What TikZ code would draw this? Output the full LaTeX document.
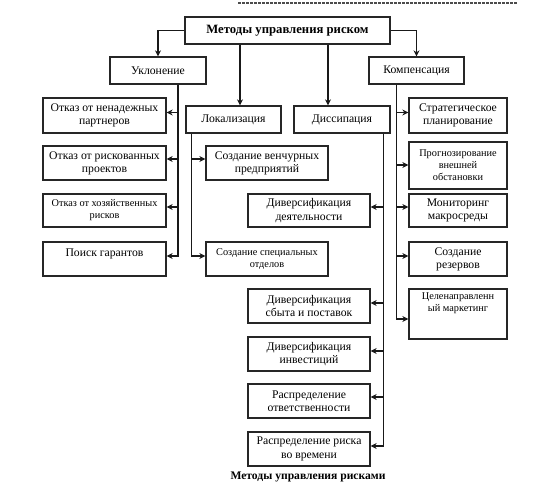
\documentclass[tikz,border=0pt]{standalone}
\usepackage{fontspec}
\setmainfont{Liberation Serif}
\usetikzlibrary{arrows.meta,calc}
\begin{document}
\begin{tikzpicture}[x=1pt,y=-1pt,
  box/.style={draw=black!85,line width=1.3pt,inner sep=0pt,align=center,font=\fontsize{11.7}{13.2}\selectfont},
  small/.style={font=\fontsize{10.3}{12}\selectfont},
  conn/.style={draw=black!90,line width=1.5pt},
  arr/.style={conn,-{Stealth[length=6pt,width=6pt]}}]
\useasboundingbox (0,0) rectangle (549,492);
% top dashed artifact
\draw[black!70,line width=1.2pt,dash pattern=on 3pt off 1pt] (238,3) coordinate (da) -- (518,3) coordinate (db);
% boxes
\node[box,minimum width=205,minimum height=27,font=\bfseries\fontsize{12.7}{14}\selectfont] (top) at (287.5,30.5) {Методы управления риском};
\node[box,minimum width=96,minimum height=27] (ukl) at (158,70.5) {Уклонение};
\node[box,minimum width=95,minimum height=27] (komp) at (416.5,70.5) {Компенсация};
\node[box,minimum width=95,minimum height=27] (lok) at (233.5,119.5) {Локализация};
\node[box,minimum width=96,minimum height=27] (dis) at (342,119.5) {Диссипация};
% left column
\node[box,minimum width=123,minimum height=35] (o1) at (104.5,115.5) {Отказ от ненадежных\\партнеров};
\node[box,minimum width=123,minimum height=34] (o2) at (104.5,163) {Отказ от рискованных\\проектов};
\node[box,small,minimum width=123,minimum height=33] (o3) at (104.5,210.5) {Отказ от хозяйственных\\рисков};
\node[box,minimum width=123,minimum height=34] (o4) at (104.5,259) {Поиск гарантов\\\mbox{}};
% localization column
\node[box,minimum width=122,minimum height=34] (l1) at (267,163) {Создание венчурных\\предприятий};
\node[box,small,minimum width=122,minimum height=34] (l2) at (267,259) {Создание специальных\\отделов};
% dissipation column
\node[box,minimum width=122,minimum height=33] (d1b) at (309,210.5) {Диверсификация\\деятельности};
\node[box,minimum width=122,minimum height=34] (d2b) at (309,306) {Диверсификация\\сбыта и поставок};
\node[box,minimum width=122,minimum height=34] (d3b) at (309,354) {Диверсификация\\инвестиций};
\node[box,minimum width=122,minimum height=34] (d4b) at (309,401) {Распределение\\ответственности};
\node[box,minimum width=122,minimum height=34] (d5b) at (309,449) {Распределение риска\\во времени};
% compensation column
\node[box,minimum width=98,minimum height=35] (k1) at (458,115.5) {Стратегическое\\планирование};
\node[box,small,minimum width=98,minimum height=47] (k2) at (458,165.5) {Прогнозирование\\внешней\\обстановки};
\node[box,minimum width=98,minimum height=33] (k3) at (458,210.5) {Мониторинг\\макросреды};
\node[box,minimum width=98,minimum height=34] (k4) at (458,259) {Создание\\резервов};
\node[box,small,minimum width=98,minimum height=50] (k5) at (458,314) {Целенаправленн\\ый маркетинг\\\mbox{}\\\mbox{}};
% caption
\node[font=\bfseries\fontsize{11.6}{13}\selectfont,inner sep=0pt] (cap) at (308,477) {Методы управления рисками};
% top connectors
\draw[arr] (top.west) -| (ukl.north);
\draw[arr] (top.east) -| (komp.north);
\draw[arr] ([xshift=6.5pt]lok.north |- top.south) -- ([xshift=6.5pt]lok.north);
\draw[arr] ([xshift=-14pt]dis.north |- top.south) -- ([xshift=-14pt]dis.north);
% Уклонение trunk
\coordinate (ut) at ([xshift=20pt]ukl.south);
\draw[arr] (ut) |- ([yshift=3pt]o4.east);
\foreach \b/\s in {o1/3,o2/4,o3/3.5}{\draw[arr] ([yshift=\s pt]\b.east -| ut) -- ([yshift=\s pt]\b.east);}
% Локализация trunk
\coordinate (lt) at ([xshift=6pt]lok.south west);
\draw[conn] (lt) -- ([yshift=3pt]l2.west -| lt);
\foreach \b/\s in {l1/4,l2/3}{\draw[arr] ([yshift=\s pt]\b.west -| lt) -- ([yshift=\s pt]\b.west);}
% Диссипация trunk
\coordinate (dt) at ([xshift=-7pt]dis.south east);
\draw[arr] (dt) |- ([yshift=3pt]d5b.east);
\foreach \b/\s in {d1b/3.5,d2b/3,d3b/3,d4b/4}{\draw[arr] ([yshift=\s pt]\b.east -| dt) -- ([yshift=\s pt]\b.east);}
% Компенсация trunk
\coordinate (kt) at ([xshift=28pt]komp.south west);
\draw[arr] (kt) |- ([yshift=-5pt]k5.west);
\foreach \b/\s in {k1/3,k2/0.5,k3/3.5,k4/3}{\draw[arr] ([yshift=\s pt]\b.west -| kt) -- ([yshift=\s pt]\b.west);}
\end{tikzpicture}
\end{document}
